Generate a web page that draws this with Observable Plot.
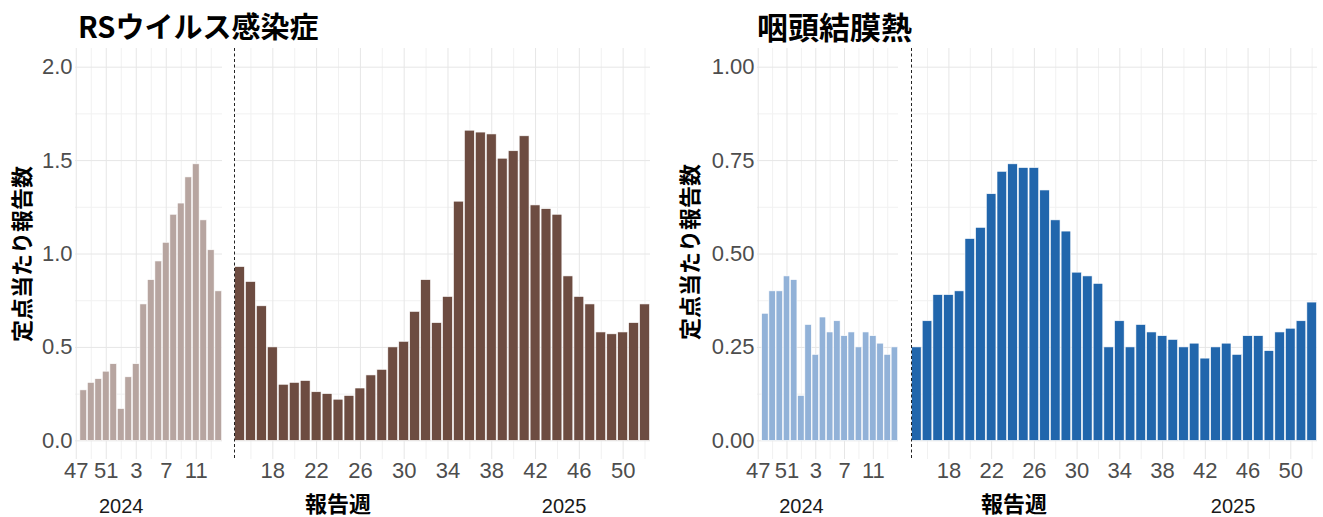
<!DOCTYPE html>
<html><head><meta charset="utf-8">
<script src="https://cdn.jsdelivr.net/npm/d3@7"></script>
<script src="https://cdn.jsdelivr.net/npm/@observablehq/plot@0.6"></script>
<style>
body{margin:0;background:#fff;}
#wrap{position:relative;width:1323px;height:517px;overflow:hidden;background:#fff;}
.p{position:absolute;top:0;}
.t{position:absolute;font-family:"Noto Sans CJK JP","Noto Sans",sans-serif;font-weight:700;color:#000;white-space:nowrap;line-height:1;}
</style></head><body><div id="wrap"></div>
<script>
// ---- data ----
const prevWeeks = [48,49,50,51,52,1,2,3,4,5,6,7,8,9,10,11,12,13,14];
const prevAxisWeeks = [47,48,49,50,51,52,1,2,3,4,5,6,7,8,9,10,11,12,13,14];
const prevTicks = [47,51,3,7,11];
const prevMinor = [49,1,5,9,13];
const curWeeks = d3.range(15,53);
const curTicks = [18,22,26,30,34,38,42,46,50];
const curMinor = [16,20,24,28,32,36,40,44,48,52];
const yearLabels = ["2024","2025"];
const yearLabelWeeks = [1, 44.6];

const rsPrev = [0.27,0.31,0.33,0.37,0.41,0.17,0.34,0.41,0.73,0.86,0.96,1.06,1.21,1.27,1.41,1.48,1.18,1.02,0.80];
const rsCur = [0.93,0.85,0.72,0.50,0.30,0.31,0.32,0.26,0.25,0.22,0.24,0.28,0.35,0.38,0.50,0.53,0.69,0.86,0.63,0.77,
               1.28,1.66,1.65,1.64,1.51,1.55,1.63,1.26,1.24,1.21,0.88,0.77,0.73,0.58,0.57,0.58,0.63,0.73];
const pcfPrev = [0.34,0.40,0.40,0.44,0.43,0.12,0.31,0.23,0.33,0.29,0.32,0.28,0.29,0.25,0.29,0.28,0.26,0.23,0.25];
const pcfCur = [0.25,0.32,0.39,0.39,0.40,0.54,0.57,0.66,0.72,0.74,0.73,0.73,0.67,0.59,0.56,0.45,0.44,0.42,
                0.25,0.32,0.25,0.31,0.29,0.28,0.27,0.25,0.26,0.22,0.25,0.26,0.23,0.28,0.28,0.24,0.29,0.30,0.32,0.37];

const rsYTicks = [0,0.5,1.0,1.5,2.0];
const rsYMinor = [0.25,0.75,1.25,1.75];
const pcfYTicks = [0,0.25,0.5,0.75,1.0];
const pcfYMinor = [0.125,0.375,0.625,0.875];

const titles = ["RSウイルス感染症","咽頭結膜熱"];
const yTitle = "定点当たり報告数";
const xTitle = "報告週";

const colors = {rsPrev:"#b7a5a0", rsCur:"#6d4c41", pcfPrev:"#92b2d8", pcfCur:"#2166ac"};

// ---- drawing ----
const wrap = document.getElementById("wrap");
const H = 517, MT = 48, MB = 58;

function panel(o) {
  const pos = o.pos;
  const data = o.weeks.map((w,i) => ({x: pos(w), v: o.values[i]}));
  const tickPos = o.xTicks.map(pos);
  const tickLab = new Map(o.xTicks.map(w => [pos(w), String(w)]));
  const marks = [
    Plot.ruleY(o.yMinor, {stroke:"#f1f1f1", strokeWidth:1}),
    Plot.ruleX(o.xMinor.map(pos), {stroke:"#f1f1f1", strokeWidth:1}),
    Plot.ruleY(o.yTicks, {stroke:"#e6e6e6", strokeWidth:1}),
    Plot.ruleX(tickPos, {stroke:"#e6e6e6", strokeWidth:1}),
    Plot.rect(data, {x1: d => d.x - 0.45, x2: d => d.x + 0.45, y1: d => 0, y2: "v",
      fill: o.color, stroke: "white", strokeWidth: 0.6}),
    Plot.axisX(tickPos, {tickSize:0, tickPadding:3, tickFormat: d => tickLab.get(d),
      fontSize: 22, fill:"#4d4d4d", label: null}),
    Plot.text([o.year], {x: () => pos(o.yearWeek), text: d => d, frameAnchor: "bottom",
      dy: 47, fontSize: 20, fill: "#1a1a1a", lineAnchor: "middle"})
  ];
  if (o.dashed) marks.push(Plot.ruleX([o.xDomain[0]], {stroke:"#222", strokeWidth:1, strokeDasharray:"3,2.5"}));
  if (o.showY) marks.push(Plot.axisY(o.yTicks, {tickSize:0, tickPadding:3, tickFormat: d3.format(o.yFmt),
      fontSize: 22, fill:"#4d4d4d", label: null}));
  const svg = Plot.plot({
    width: o.width, height: H,
    marginLeft: o.ml, marginRight: o.mr, marginTop: MT, marginBottom: MB,
    x: {type: "linear", domain: o.xDomain, axis: null},
    y: {domain: [-0.05 * o.yMax, 1.05 * o.yMax], axis: null},
    style: {fontFamily: '"Liberation Sans", Arial, sans-serif', fontSize: "22px", color: "#4d4d4d", background: "transparent", overflow: "visible"},
    marks
  });
  svg.classList.add("p");
  svg.style.left = o.left + "px";
  wrap.appendChild(svg);
}

const prevPos = w => prevAxisWeeks.indexOf(w);
const curPos = w => w;

// RS
panel({pos: prevPos, weeks: prevWeeks, values: rsPrev, xTicks: prevTicks, xMinor: prevMinor,
  xDomain: [-0.1, 19.5], yTicks: rsYTicks, yMinor: rsYMinor, yMax: 2, yFmt: ".1f", showY: true,
  color: colors.rsPrev, year: yearLabels[0], yearWeek: yearLabelWeeks[0],
  left: 0, width: 232, ml: 75, mr: 10});
panel({pos: curPos, weeks: curWeeks, values: rsCur, xTicks: curTicks, xMinor: curMinor,
  xDomain: [14.5, 52.5], yTicks: rsYTicks, yMinor: rsYMinor, yMax: 2, showY: false, dashed: true,
  color: colors.rsCur, year: yearLabels[1], yearWeek: yearLabelWeeks[1],
  left: 224, width: 436, ml: 10, mr: 10});
// PCF
panel({pos: prevPos, weeks: prevWeeks, values: pcfPrev, xTicks: prevTicks, xMinor: prevMinor,
  xDomain: [-0.1, 19.5], yTicks: pcfYTicks, yMinor: pcfYMinor, yMax: 1, yFmt: ".2f", showY: true,
  color: colors.pcfPrev, year: yearLabels[0], yearWeek: yearLabelWeeks[0],
  left: 660, width: 248, ml: 97, mr: 10});
panel({pos: curPos, weeks: curWeeks, values: pcfCur, xTicks: curTicks, xMinor: curMinor,
  xDomain: [14.5, 52.5], yTicks: pcfYTicks, yMinor: pcfYMinor, yMax: 1, showY: false, dashed: true,
  color: colors.pcfCur, year: yearLabels[1], yearWeek: yearLabelWeeks[1],
  left: 901, width: 422, ml: 10, mr: 6});

// texts
function addText(str, css) {
  const d = document.createElement("div");
  d.className = "t";
  d.textContent = str;
  Object.assign(d.style, css);
  wrap.appendChild(d);
}
addText(titles[0], {left: "78px", top: "11px", fontSize: "29px"});
addText(titles[1], {left: "757px", top: "10px", fontSize: "31px"});
addText(yTitle, {left: "20px", top: "254px", fontSize: "22px", transform: "translate(-50%,-50%) rotate(-90deg)"});
addText(yTitle, {left: "688px", top: "252px", fontSize: "22px", transform: "translate(-50%,-50%) rotate(-90deg)"});
addText(xTitle, {left: "338px", top: "502px", fontSize: "22px", transform: "translate(-50%,-50%)"});
addText(xTitle, {left: "1014px", top: "502px", fontSize: "22px", transform: "translate(-50%,-50%)"});
</script></body></html>
